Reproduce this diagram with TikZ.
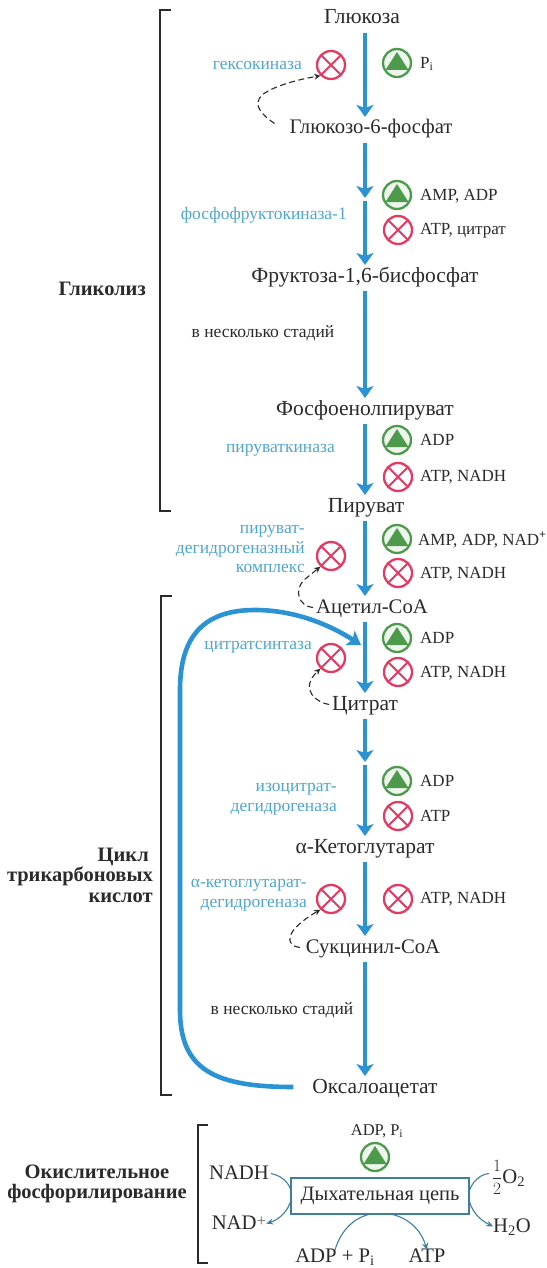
\documentclass[tikz,border=0pt]{standalone}
\usepackage{fontspec}
\setmainfont{Liberation Serif}
\usetikzlibrary{arrows.meta,calc}
\definecolor{flow}{HTML}{2B93D3}
\definecolor{enz}{HTML}{4FA6CE}
\definecolor{inhc}{HTML}{E23A63}
\definecolor{actc}{HTML}{4E9A4C}
\definecolor{ink}{HTML}{2A2A2A}
\definecolor{thin}{HTML}{3E7F9C}
\newcommand{\fsz}[1]{\fontsize{#1}{#1}\selectfont}
\tikzset{
 met/.style={text=ink,font=\fsz{21.5},inner sep=0pt,outer sep=0pt,text height=12pt,text depth=1pt,yshift=-1.5pt},
 mets/.style={met,font=\fsz{20.7}},
 lab/.style={text=ink,font=\fsz{17},anchor=west,inner sep=0pt},
 enzt/.style={text=enz,font=\fsz{17.5},anchor=east,inner sep=0pt,align=right},
 note/.style={text=ink,font=\fsz{17.5},inner sep=0pt},
 head/.style={text=ink,font=\bfseries\fsz{20.5},inner sep=0pt},
 mainar/.style={draw=flow,line width=4.6pt,-{Stealth[length=12pt,width=17pt,inset=3pt]},shorten <=8pt,shorten >=5pt},
 cyc/.style={draw=flow,line width=4.6pt,-{Stealth[length=13pt,width=17pt,inset=3pt]}},
 fb/.style={draw=ink,line width=1.1pt,dash pattern=on 6pt off 3.5pt,-{Stealth[length=6pt,width=6pt]}},
 thinar/.style={draw=thin,line width=1.1pt,-{Stealth[length=7pt,width=6pt]}},
 brk/.style={draw=ink,line width=1.2pt},
 inh/.style={circle,draw=inhc,line width=2.3pt,minimum size=28pt,inner sep=0pt,
   path picture={\draw[inhc,line width=2pt] (path picture bounding box.north west)--(path picture bounding box.south east) (path picture bounding box.north east)--(path picture bounding box.south west);}},
 act/.style={circle,draw=actc,line width=2.3pt,minimum size=28pt,inner sep=0pt,fill=actc!10,
   path picture={\fill[actc] ($(path picture bounding box.center)+(0,11pt)$) -- ++(-11.5pt,-18pt) -- ++(23pt,0) -- cycle;}},
}
\begin{document}
\begin{tikzpicture}[x=1pt,y=-1pt]
\useasboundingbox (0,0) rectangle (546,1268);
% metabolites
\node[met] (m1) at (362,17) {Глюкоза};
\node[mets] (m2) at (371,127) {Глюкозо-6-фосфат};
\coordinate (mx) at (365,198);
\node[met] (m3) at (365,275) {Фруктоза-1,6-бисфосфат};
\node[met] (m4) at (365,408) {Фосфоенолпируват};
\node[met] (m5) at (366,505) {Пируват};
\node[mets] (m6) at (372,606) {Ацетил-CoA};
\node[met] (m7) at (365,703) {Цитрат};
\coordinate (my) at (365,762);
\node[met] (m8) at (365,846) {α-Кетоглутарат};
\node[mets] (m9) at (373,946) {Сукцинил-CoA};
\node[met] (m10) at (375,1086) {Оксалоацетат};
\coordinate (ax) at (365,0);
% main arrows
\draw[mainar] (m1.south -| ax) -- (m2.north -| ax);
\draw[mainar,shorten >=0pt] (m2.south -| ax) -- (mx);
\draw[mainar,shorten <=0pt] ($(mx)+(0,3)$) -- (m3.north -| ax);
\draw[mainar] (m3.south -| ax) -- (m4.north -| ax);
\draw[mainar] (m4.south -| ax) -- (m5.north -| ax);
\draw[mainar] (m5.south -| ax) -- (m6.north -| ax);
\draw[mainar] (m6.south -| ax) -- (m7.north -| ax);
\draw[mainar,shorten >=0pt] (m7.south -| ax) -- (my);
\draw[mainar,shorten <=0pt] ($(my)+(0,3)$) -- (m8.north -| ax);
\draw[mainar] (m8.south -| ax) -- (m9.north -| ax);
\draw[mainar] (m9.south -| ax) -- (m10.north -| ax);
% cycle arrow
\coordinate (cyc) at (361,645);
\draw[cyc] (m10.west) ++(-19,-0.5) .. controls (215,1087) and (180,1070) .. (180,1010) -- (180,690)
  .. controls (180,635) and (205,610) .. (255,610) .. controls (295,610) and (330,625) .. (cyc);
% regulators, right side
\node[act] (a1) at (397,63) {};  \node[lab] (l1) at (420,64) {P\textsubscript{i}};
\node[act] (a2) at (397,195) {}; \node[lab] (l2) at (420,196) {AMP, ADP};
\node[inh] (i2) at (398,230) {}; \node[lab] (l3) at (420,231) {ATP, цитрат};
\node[act] (a3) at (397,440) {}; \node[lab] (l4) at (420,440) {ADP};
\node[inh] (i3) at (398,477) {}; \node[lab] (l5) at (420,477) {ATP, NADH};
\node[act] (a4) at (397,539) {}; \node[lab] (l6) at (418,540) {AMP, ADP, NAD\textsuperscript{\textbf{+}}};
\node[inh] (i4) at (398,573) {}; \node[lab] (l7) at (420,574) {ATP, NADH};
\node[act] (a5) at (397,638) {}; \node[lab] (l8) at (420,638) {ADP};
\node[inh] (i5) at (398,672) {}; \node[lab] (l9) at (420,673) {ATP, NADH};
\node[act] (a6) at (397,781) {}; \node[lab] (l10) at (420,781) {ADP};
\node[inh] (i6) at (398,816) {}; \node[lab] (l11) at (420,816) {ATP};
\node[inh] (i7) at (398,899) {}; \node[lab] (l12) at (420,899) {ATP, NADH};
% enzymes
\node[inh] (e1) at (331,65) {};
\node[enzt] (t1) at (302,65) {гексокиназа};
\node[enzt] (t2) at (347,215) {фосфофруктокиназа-1};
\node[enzt] (t3) at (335,450) {пируваткиназа};
\node[inh] (e2) at (331,556) {};
\node[enzt] (t4) at (305,549) {пируват-\\[2pt]дегидрогеназный\\[2pt]комплекс};
\node[inh] (e3) at (331,658) {};
\node[enzt] (t5) at (312,647) {цитратсинтаза};
\node[enzt] (t6) at (337,799) {изоцитрат-\\[2pt]дегидрогеназа};
\node[inh] (e4) at (331,899) {};
\node[enzt] (t7) at (307,895) {α-кетоглутарат-\\[2pt]дегидрогеназа};
\node[note] (n1) at (263,333) {в несколько стадий};
\node[note] (n2) at (282,1010) {в несколько стадий};
% feedback
\draw[fb] (m2.west) ++(-15,-5) .. controls (262,115) and (252,105) .. (262,95) .. controls (272,87) and (295,80) .. (e1.south west);
\draw[fb] (m6.west) ++(-3,0) .. controls (298,606) and (294,590) .. (304,580) -- (e2.south west);
\draw[fb] (m7.west) ++(-3,0) .. controls (318,703) and (298,690) .. (e3.south west);
\draw[fb] (m9.west) ++(-6,0) .. controls (286,946) and (282,932) .. (e4.south west);
% brackets
\draw[brk] (171,10) -- (160,10) -- (160,511) -- (171,511);
\draw[brk] (172,596) -- (161,596) -- (161,1095) -- (172,1095);
\draw[brk] (208,1125) -- (198,1125) -- (198,1263) -- (208,1263);
\node[head,anchor=east] (h1) at (146,289) {Гликолиз};
\node[head,anchor=east,align=right] (h2) at (153,875) {Цикл\hspace*{4pt}\\трикарбоновых\hspace*{4pt}\\кислот};
\node[head,align=center] (h3) at (97,1184) {Окислительное\\фосфорилирование};
% oxidative phosphorylation
\node[mets] (adp) at (335,1255) {ADP + P\textsubscript{i}};
\node[mets] (atp) at (427,1255) {ATP};
\draw[thinar] (adp.north) .. controls (342,1226) and (360,1213) .. (380,1213) .. controls (402,1213) and (420,1226) .. (atp.north);
\node[draw=thin,line width=1.3pt,fill=white,minimum width=178pt,minimum height=36pt,inner sep=0pt,text=ink,font=\fsz{20.5}] (box) at (380,1196) {Дыхательная цепь};
\node[act] (a7) at (375,1157) {};
\node[note,font=\fsz{16.5}] (l13) at (377,1131) {ADP, P\textsubscript{i}};
\node[mets] (nadh) at (239,1172) {NADH};
\node[mets] (nad) at (239,1222) {NAD{\fsz{17}\color{ink!70}\raisebox{3pt}{+}}};
\node[mets,anchor=west] (o2) at (492,1176) {{\fsz{16}$\displaystyle\frac{1}{2}$}O\textsubscript{2}};
\node[mets] (h2o) at (512,1225) {H\textsubscript{2}O};
\draw[thinar] (nadh.east) ++(2,0) .. controls (285,1176) and (294,1188) .. (291,1200) .. controls (288,1212) and (278,1220) .. (nad.east);
\draw[thinar] (o2.west) ++(-3,-4) .. controls (478,1174) and (466,1188) .. (469,1200) .. controls (472,1212) and (480,1220) .. (h2o.west);
\end{tikzpicture}
\end{document}
